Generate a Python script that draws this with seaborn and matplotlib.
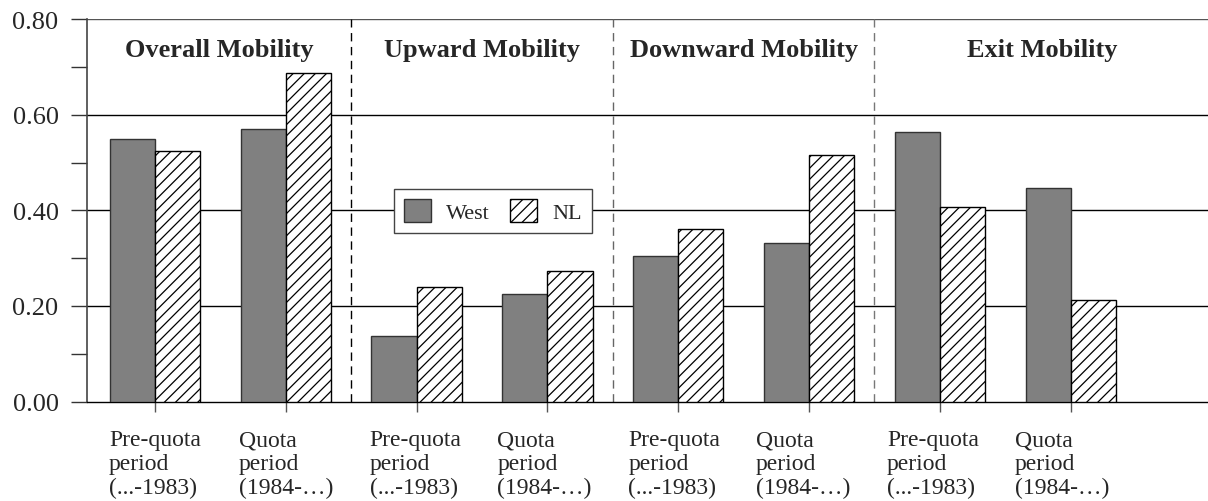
import matplotlib
matplotlib.use("Agg")
import matplotlib.pyplot as plt
from matplotlib.patches import Patch
from matplotlib.ticker import MultipleLocator
import seaborn as sns
import pandas as pd

# ---- data ----
categories = [
    "Pre-quota\nperiod\n(...-1983)", "Quota\nperiod\n(1984-…)",
    "Pre-quota\nperiod\n(...-1983) ", "Quota\nperiod\n(1984-…) ",
    "Pre-quota\nperiod\n(...-1983)  ", "Quota\nperiod\n(1984-…)  ",
    "Pre-quota\nperiod\n(...-1983)   ", "Quota\nperiod\n(1984-…)   ",
]
west = [0.549, 0.570, 0.138, 0.225, 0.305, 0.331, 0.563, 0.446]
nl = [0.524, 0.687, 0.239, 0.273, 0.361, 0.516, 0.406, 0.213]
series = ["West", "NL"]
panel_titles = ["Overall Mobility", "Upward Mobility", "Downward Mobility", "Exit Mobility"]
yticks = [0.0, 0.2, 0.4, 0.6, 0.8]

df = pd.DataFrame({
    "category": categories * 2,
    "value": west + nl,
    "series": ["West"] * len(categories) + ["NL"] * len(categories),
})

sns.set_theme(style="white")
plt.rcParams["font.family"] = ["Liberation Serif", "DejaVu Serif"]
plt.rcParams["hatch.linewidth"] = 0.9
plt.rcParams["hatch.color"] = "black"

fig = plt.figure(figsize=(12.08, 5.02), dpi=100)
ax = fig.add_axes([0.072, 0.198, 0.928, 0.762])

sns.barplot(data=df, x="category", y="value", hue="series", hue_order=series,
            order=categories, palette={"West": "#808080", "NL": "white"},
            width=0.69, gap=0, saturation=1, legend=False, ax=ax, zorder=3)

for bar in ax.containers[0]:
    bar.set_edgecolor("#333333")
    bar.set_linewidth(1.0)
for bar in ax.containers[1]:
    bar.set_edgecolor("black")
    bar.set_hatch("///")
    bar.set_linewidth(1.0)

ax.set_xlim(-0.52, 8.05)
ax.set_ylim(0, 0.8)
ax.set_yticks(yticks)
ax.set_yticklabels([f"{v:.2f}" for v in yticks])
ax.yaxis.set_minor_locator(MultipleLocator(0.1))
ax.tick_params(axis="y", which="both", direction="out", length=11.5, width=1,
               color="#333333", left=True, labelsize=19, pad=9)
ax.tick_params(axis="x", which="major", direction="out", length=7, width=1,
               color="#555555", bottom=True, labelsize=17, pad=13)
for lab in ax.get_xticklabels():
    lab.set_multialignment("left")
    lab.set_linespacing(1.17)

ax.set_xlabel("")
ax.set_ylabel("")
ax.grid(False)
for y in yticks[1:]:
    ax.axhline(y, color="black" if y < 0.8 else "#555555", lw=1.0, zorder=1)

ax.spines["right"].set_visible(False)
ax.spines["top"].set_visible(False)
ax.spines["left"].set_color("#444444")
ax.spines["left"].set_linewidth(1.2)
ax.spines["bottom"].set_color("black")
ax.spines["bottom"].set_linewidth(1.0)

for xd, c in zip([1.5, 3.5, 5.5], ["black", "#666666", "#777777"]):
    ax.axvline(xd, color=c, lw=1.0, ls=(0, (6, 4)), zorder=2)

for xt, t in zip([0.49, 2.5, 4.5, 6.78], panel_titles):
    ax.text(xt, 0.737, t, ha="center", va="center", fontsize=19, fontweight="bold")

handles = [Patch(facecolor="#808080", edgecolor="#333333", label="West"),
           Patch(facecolor="white", edgecolor="black", hatch="///", label="NL")]
leg = ax.legend(handles=handles, loc="center", bbox_to_anchor=(0.362, 0.498),
                ncol=2, fontsize=16, frameon=True, fancybox=False,
                handlelength=1.2, handleheight=1.2, handletextpad=0.7,
                columnspacing=0.9, borderpad=0.45, borderaxespad=0,
                framealpha=1)
leg.get_frame().set_edgecolor("#444444")
leg.get_frame().set_linewidth(1.0)
leg.set_zorder(5)

fig.savefig("out.png", dpi=100)
